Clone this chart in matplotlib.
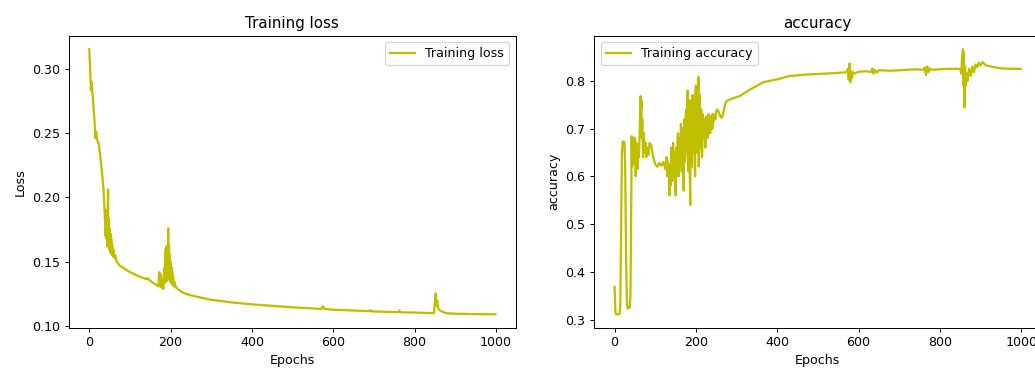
import matplotlib
matplotlib.use("Agg")
import matplotlib.pyplot as plt

# ---- data ----
loss_epochs = [0, 2, 4, 5, 6, 8, 10, 13, 15, 17, 19, 23, 27, 31, 35, 38, 40, 41, 42, 43, 44, 45, 46, 47,
               48, 49, 50, 51, 52, 53, 54, 55, 56, 57, 58, 59, 60, 62, 64, 66, 70, 75, 85, 100, 120, 140,
               143, 146, 160, 170, 172, 174, 176, 178, 180, 182, 184, 186, 188, 189, 190, 191, 192, 193,
               194, 195, 196, 197, 198, 199, 200, 201, 202, 203, 204, 205, 206, 208, 210, 213, 218, 225,
               235, 250, 275, 300, 350, 400, 450, 500, 550, 570, 575, 577, 580, 600, 650, 690, 692, 694,
               700, 750, 760, 763, 765, 770, 800, 840, 848, 850, 852, 854, 856, 858, 862, 870, 880, 900,
               950, 999]
loss_values = [0.315, 0.300, 0.283, 0.290, 0.284, 0.281, 0.272, 0.258, 0.246, 0.251, 0.245, 0.242, 0.232,
               0.220, 0.206, 0.187, 0.170, 0.190, 0.168, 0.185, 0.162, 0.178, 0.206, 0.165, 0.183, 0.160,
               0.176, 0.158, 0.172, 0.157, 0.168, 0.156, 0.164, 0.155, 0.161, 0.154, 0.159, 0.153, 0.155,
               0.151, 0.149, 0.147, 0.145, 0.142, 0.139, 0.1365, 0.1375, 0.1362, 0.133, 0.131, 0.142,
               0.131, 0.140, 0.130, 0.136, 0.129, 0.145, 0.134, 0.160, 0.137, 0.162, 0.135, 0.160, 0.140,
               0.176, 0.138, 0.163, 0.136, 0.155, 0.135, 0.150, 0.134, 0.146, 0.133, 0.142, 0.132, 0.139,
               0.131, 0.134, 0.130, 0.129, 0.127, 0.1255, 0.124, 0.1222, 0.1205, 0.1185, 0.1170, 0.1158,
               0.1147, 0.1138, 0.1133, 0.1155, 0.1140, 0.1134, 0.1128, 0.1122, 0.1117, 0.1125, 0.1116,
               0.1115, 0.1110, 0.1108, 0.1122, 0.1110, 0.1108, 0.1106, 0.1102, 0.1102, 0.1180, 0.1255,
               0.1160, 0.1200, 0.1140, 0.1125, 0.1110, 0.1100, 0.1097, 0.1094, 0.1093]

acc_epochs = [0, 2, 4, 12, 14, 16, 18, 20, 24, 26, 28, 30, 32, 37, 39, 41, 42, 43, 44, 45, 46, 48, 50,
              52, 54, 56, 58, 60, 62, 64, 65, 66, 67, 68, 70, 72, 74, 76, 78, 80, 83, 86, 90, 95, 100,
              105, 110, 115, 120, 125,
              128, 129, 130, 131, 132, 133, 134, 135, 136, 137, 138, 139, 140, 141, 142, 143, 144, 145,
              146, 147, 148, 149, 150, 151, 152, 153, 154, 155, 156, 157, 158, 159, 160, 161, 162, 163,
              164, 165, 166, 167, 168, 169, 170, 171, 172, 173, 174, 175, 176, 177, 178, 179, 180, 181,
              182, 183, 184, 185, 186, 187, 188, 189, 190, 191, 192, 193, 194, 195, 196, 197, 198, 199,
              200, 201, 202, 203, 204, 205, 206, 207, 208, 209, 210, 211, 212, 213, 214, 215, 216, 217,
              218, 219, 220, 221, 222, 223, 224, 225, 226, 227, 228, 229, 230, 231, 232, 233, 234, 235,
              236, 237, 238, 239, 240, 241, 242, 243, 244, 246, 248, 250, 252, 256, 260, 264, 268, 272,
              276, 290, 308, 330, 366,
              400, 431, 470, 520, 560, 570, 574, 576, 578, 580, 582, 584, 586, 590, 600, 620, 630, 634,
              637, 640, 645, 650, 680, 700, 740, 760, 763, 766, 769, 772, 776, 780, 820, 850, 853, 855,
              857, 858, 859, 860, 861, 862, 864, 866, 868, 872, 876, 880, 884, 888, 892, 896, 900, 906,
              912, 920, 930, 950, 980, 999]
acc_values = [0.368, 0.315, 0.311, 0.311, 0.330, 0.500, 0.650, 0.673, 0.672, 0.620, 0.450, 0.340, 0.323,
              0.325, 0.350, 0.550, 0.684, 0.620, 0.682, 0.640, 0.675, 0.625, 0.680, 0.600, 0.670, 0.615,
              0.660, 0.640, 0.700, 0.768, 0.740, 0.760, 0.680, 0.720, 0.640, 0.690, 0.650, 0.670, 0.640,
              0.660, 0.645, 0.670, 0.665, 0.640, 0.625, 0.620, 0.628, 0.622, 0.630, 0.615,
              0.640, 0.610, 0.600, 0.630, 0.615, 0.625, 0.590, 0.560, 0.610, 0.620, 0.580, 0.650, 0.660,
              0.600, 0.590, 0.650, 0.670, 0.610, 0.600, 0.640, 0.650, 0.590, 0.560, 0.630, 0.660, 0.600,
              0.620, 0.680, 0.690, 0.610, 0.600, 0.670, 0.680, 0.620, 0.640, 0.710, 0.700, 0.610, 0.620,
              0.700, 0.680, 0.600, 0.570, 0.690, 0.720, 0.630, 0.640, 0.730, 0.740, 0.650, 0.660, 0.760,
              0.780, 0.640, 0.610, 0.740, 0.760, 0.600, 0.540, 0.720, 0.750, 0.640, 0.620, 0.760, 0.770,
              0.660, 0.650, 0.740, 0.760, 0.620, 0.600, 0.770, 0.790, 0.680, 0.650, 0.760, 0.780, 0.700,
              0.808, 0.620, 0.660, 0.770, 0.740, 0.660, 0.680, 0.740, 0.720, 0.640, 0.670, 0.730, 0.720,
              0.680, 0.690, 0.720, 0.710, 0.660, 0.680, 0.725, 0.720, 0.690, 0.700, 0.680, 0.720, 0.730,
              0.700, 0.690, 0.725, 0.690, 0.715, 0.725, 0.700, 0.700, 0.730, 0.700, 0.720, 0.730, 0.715,
              0.728, 0.720, 0.735, 0.740, 0.735, 0.725, 0.723, 0.735, 0.752, 0.758, 0.763, 0.768, 0.780,
              0.797,
              0.803, 0.810, 0.813, 0.815, 0.817, 0.818, 0.825, 0.802, 0.836, 0.797, 0.820, 0.806, 0.818,
              0.815, 0.819, 0.820, 0.818, 0.826, 0.815, 0.823, 0.817, 0.822, 0.821, 0.822, 0.824, 0.823,
              0.828, 0.812, 0.830, 0.818, 0.826, 0.823, 0.825, 0.825, 0.815, 0.850, 0.866, 0.790, 0.860,
              0.800, 0.744, 0.830, 0.790, 0.815, 0.800, 0.825, 0.810, 0.830, 0.818, 0.834, 0.828, 0.838,
              0.832, 0.839, 0.833, 0.831, 0.829, 0.826, 0.825, 0.825]

line_color = "y"
DPI = 91
W, H = 1035, 369

fig = plt.figure(figsize=(W / DPI, H / DPI), dpi=DPI)

ax1 = fig.add_axes([69 / W, 1 - 327.5 / H, 446.7 / W, 291.5 / H])
ax1.plot(loss_epochs, loss_values, color=line_color, lw=1.8, label="Training loss")
ax1.set_title("Training loss")
ax1.set_xlabel("Epochs")
ax1.set_ylabel("Loss")
ax1.set_xticks([0, 200, 400, 600, 800, 1000])
ax1.set_yticks([0.10, 0.15, 0.20, 0.25, 0.30])
ax1.legend(loc="upper right")

ax2 = fig.add_axes([594.3 / W, 1 - 327.5 / H, 446.7 / W, 291.5 / H])
ax2.plot(acc_epochs, acc_values, color=line_color, lw=1.8, label="Training accuracy")
ax2.set_title("accuracy")
ax2.set_xlabel("Epochs")
ax2.set_ylabel("accuracy")
ax2.set_xticks([0, 200, 400, 600, 800, 1000])
ax2.set_yticks([0.3, 0.4, 0.5, 0.6, 0.7, 0.8])
ax2.legend(loc="upper left")

fig.savefig("out.png", dpi=DPI)
